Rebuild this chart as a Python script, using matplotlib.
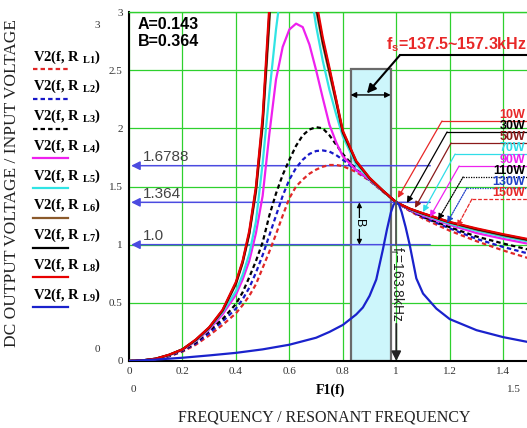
import matplotlib
matplotlib.use('Agg')
import matplotlib.pyplot as plt
from matplotlib.patches import Rectangle
from matplotlib.lines import Line2D

# normalised frequency f / fr (shared by curves L1..L8)
freq = [0, 0.05, 0.1, 0.15, 0.2, 0.25, 0.3, 0.35, 0.4, 0.425, 0.45, 0.475, 0.5, 0.525,
        0.55, 0.575, 0.6, 0.625, 0.65, 0.675, 0.7, 0.725, 0.75, 0.775, 0.8, 0.85, 0.9,
        0.95, 1.0, 1.05, 1.1, 1.2, 1.3, 1.4, 1.5]

# gain, one list per load resistance
gain_l1 = [0, 0.004, 0.015, 0.04, 0.08, 0.14, 0.22, 0.31, 0.41, 0.48, 0.56, 0.66, 0.80, 0.94,
           1.09, 1.25, 1.40, 1.50, 1.56, 1.61, 1.645, 1.67, 1.685, 1.685, 1.675, 1.625, 1.55,
           1.455, 1.364, 1.29, 1.225, 1.12, 1.03, 0.95, 0.88]
gain_l2 = [0, 0.004, 0.015, 0.042, 0.085, 0.15, 0.24, 0.34, 0.45, 0.53, 0.63, 0.76, 0.91, 1.08,
           1.25, 1.42, 1.56, 1.66, 1.73, 1.78, 1.805, 1.81, 1.80, 1.77, 1.73, 1.64, 1.555,
           1.46, 1.364, 1.295, 1.235, 1.14, 1.05, 0.98, 0.92]
gain_l3 = [0, 0.004, 0.016, 0.045, 0.09, 0.16, 0.26, 0.36, 0.49, 0.59, 0.72, 0.86, 1.02, 1.25,
           1.44, 1.60, 1.73, 1.85, 1.94, 1.99, 2.01, 2.00, 1.94, 1.86, 1.78, 1.645, 1.56,
           1.46, 1.364, 1.30, 1.24, 1.15, 1.07, 1.01, 0.955]
gain_l4 = [0, 0.005, 0.018, 0.048, 0.095, 0.17, 0.27, 0.40, 0.57, 0.70, 0.86, 1.10, 1.42, 1.95,
           2.42, 2.70, 2.85, 2.90, 2.87, 2.72, 2.50, 2.26, 2.03, 1.88, 1.76, 1.64, 1.56,
           1.46, 1.364, 1.30, 1.25, 1.17, 1.10, 1.05, 1.005]
gain_l5 = [0, 0.005, 0.019, 0.05, 0.10, 0.175, 0.28, 0.42, 0.60, 0.74, 0.92, 1.20, 1.70, 2.30,
           2.85, 3.30, 3.60, 3.70, 3.60, 3.25, 2.88, 2.58, 2.33, 2.12, 1.93, 1.69, 1.565,
           1.462, 1.364, 1.305, 1.26, 1.18, 1.12, 1.07, 1.025]
gain_l6 = [0, 0.005, 0.02, 0.052, 0.10, 0.18, 0.285, 0.43, 0.66, 0.84, 1.09, 1.45, 2.02, 2.90,
           4.0, 4.9, 5.1, 4.7, 4.0, 3.45, 3.02, 2.72, 2.47, 2.22, 1.96, 1.71, 1.57,
           1.463, 1.364, 1.308, 1.265, 1.19, 1.13, 1.08, 1.035]
gain_l7 = [0, 0.005, 0.02, 0.053, 0.10, 0.182, 0.288, 0.435, 0.67, 0.85, 1.10, 1.48, 2.06, 2.98,
           4.3, 5.5, 5.8, 5.3, 4.3, 3.58, 3.06, 2.75, 2.50, 2.24, 1.97, 1.715, 1.572,
           1.464, 1.364, 1.309, 1.268, 1.193, 1.135, 1.085, 1.04]
gain_l8 = [0, 0.005, 0.02, 0.054, 0.10, 0.185, 0.29, 0.44, 0.68, 0.86, 1.12, 1.50, 2.10, 3.05,
           4.5, 6.0, 6.5, 5.8, 4.6, 3.70, 3.10, 2.78, 2.52, 2.25, 1.98, 1.72, 1.575,
           1.465, 1.364, 1.31, 1.27, 1.195, 1.14, 1.09, 1.045]

# L9 (sharp resonance) has its own frequency points
freq_l9 = [0, 0.1, 0.2, 0.3, 0.4, 0.5, 0.6, 0.7, 0.75, 0.8, 0.85, 0.875, 0.9, 0.925, 0.95,
           0.965, 0.98, 0.99, 1.0, 1.01, 1.02, 1.035, 1.05, 1.075, 1.1, 1.15, 1.2, 1.3, 1.4, 1.5]
gain_l9 = [0, 0.012, 0.028, 0.048, 0.07, 0.10, 0.14, 0.20, 0.25, 0.31, 0.40, 0.46, 0.56, 0.70,
           0.96, 1.13, 1.28, 1.345, 1.364, 1.345, 1.28, 1.15, 1.0, 0.71, 0.58, 0.45, 0.36,
           0.265, 0.205, 0.16]

curve_names = ['L1', 'L2', 'L3', 'L4', 'L5', 'L6', 'L7', 'L8', 'L9']
load_labels = ['10W', '30W', '50W', '70W', '90W', '110W', '130W', '150W']
marked_gains = [1.6788, 1.364, 1.0]
marked_texts = ['1.6788', '1.364', '1.0']

dash = (0, (2, 1.4))
styles = [('#e02828', dash), ('#1818c8', dash), ('black', dash), ('#ee20ee', '-'),
          ('#30e4e4', '-'), ('#8b5a2b', '-'), ('black', '-'), ('#e80000', '-'), ('#1a22cc', '-')]

plt.rcParams['font.family'] = 'Liberation Serif'

W, H = 527, 428
fig = plt.figure(figsize=(W / 100, H / 100), dpi=100)
ax = fig.add_axes([129 / W, 67 / H, 398 / W, 349 / H])

# shaded switching-frequency band
ax.add_patch(Rectangle((0.829, 0), 0.15, 2.51, facecolor='#cdf6fb', edgecolor='#6a6a6a',
                       lw=1.6, zorder=1.5))

all_gains = [gain_l1, gain_l2, gain_l3, gain_l4, gain_l5, gain_l6, gain_l7, gain_l8]
for g, (col, ls) in zip(all_gains, styles[:8]):
    ax.plot(freq, g, color=col, ls=ls, lw=1.6, zorder=3)
ax.plot(freq_l9, gain_l9, color=styles[8][0], lw=1.6, zorder=3.5)

ax.set_xlim(0, 1.489)
ax.set_ylim(0, 3)
ax.set_xticks([0, 0.2, 0.4, 0.6, 0.8, 1.0, 1.2, 1.4])
ax.set_xticklabels(['0', '0.2', '0.4', '0.6', '0.8', '1', '1.2', '1.4'])
ax.set_yticks([0, 0.5, 1, 1.5, 2, 2.5, 3])
ax.set_yticklabels(['0', '0.5', '1', '1.5', '2', '2.5', '3'])
ax.tick_params(length=0, pad=4.5, labelsize=8, labelcolor='#333333')
ax.grid(True, color='#2ed02e', lw=0.9)
ax.set_axisbelow(True)
ax.spines['right'].set_visible(False)
ax.spines['top'].set_color('#2ed02e')
ax.spines['top'].set_linewidth(1.0)
ax.spines['left'].set_linewidth(1.5)
ax.spines['bottom'].set_linewidth(1.5)

# horizontal reference arrows
for gv, txt in zip(marked_gains, marked_texts):
    ax.annotate('', xy=(0.008, gv), xytext=(1.127, gv),
                arrowprops=dict(arrowstyle='-|>', color='#4b4be0', lw=1.1, mutation_scale=13,
                                shrinkA=0, shrinkB=0), zorder=2.5)
    ax.text(0.052, gv + 0.075, txt, family='Liberation Sans', fontsize=11, color='#444444',
            va='center', ha='left')

# band width arrow and its call-out
ax.annotate('', xy=(0.829, 2.287), xytext=(0.979, 2.287),
            arrowprops=dict(arrowstyle='<|-|>', color='black', lw=1, mutation_scale=8,
                            shrinkA=0, shrinkB=0), zorder=4)
ax.plot([1.014, 1.489], [2.63, 2.63], color='black', lw=1.5, zorder=4)
ax.annotate('', xy=(0.89, 2.30), xytext=(1.014, 2.63),
            arrowprops=dict(arrowstyle='-|>', color='black', lw=1.5, mutation_scale=13,
                            shrinkA=0, shrinkB=0), zorder=4)
ax.text(0.962, 2.72, r'f$\mathregular{_s}$=137.5~157.3kHz', family='Liberation Sans',
        weight='bold', fontsize=11.5, color='#e82828', va='center', ha='left', clip_on=False)

ax.text(0.034, 2.889, 'A=0.143', family='Liberation Sans', weight='bold', fontsize=11.5,
        va='center', ha='left')
ax.text(0.034, 2.743, 'B=0.364', family='Liberation Sans', weight='bold', fontsize=11.5,
        va='center', ha='left')

# B gap arrow
ax.annotate('', xy=(0.862, 1.364), xytext=(0.862, 1.0),
            arrowprops=dict(arrowstyle='<|-|>', color='black', lw=0.9, mutation_scale=7,
                            shrinkA=0, shrinkB=0), zorder=4)
ax.text(0.862, 1.182, 'B', family='Liberation Sans', fontsize=9, rotation=-90,
        va='center', ha='center', zorder=5,
        bbox=dict(facecolor='#cdf6fb', edgecolor='none', pad=0.6))

# resonant frequency marker: line broken by the rotated label
ax.plot([1.0, 1.0], [1.364, 1.0], color='#555555', lw=1.3, zorder=4)
ax.annotate('', xy=(1.0, 0.0), xytext=(1.0, 0.32),
            arrowprops=dict(arrowstyle='-|>', color='#222222', lw=1.3, mutation_scale=14,
                            shrinkA=0, shrinkB=0), zorder=4)
ax.text(1.003, 0.66, r'f$\mathregular{_r}$=163.8kHz', family='Liberation Sans', fontsize=10,
        rotation=-90, va='center', ha='center', color='#222222', zorder=5)

# load call-outs
note_colors = ['#e82828', 'black', '#8b1a1a', '#30dde8', '#ee22ee', 'black', '#2040c8', '#e82828']
note_lines = ['-', '-', '-', '-', '-', (0, (1, 1)), (0, (1, 1)), (0, (3, 1.5))]
note_text_g = [2.115, 2.021, 1.926, 1.831, 1.728, 1.634, 1.539, 1.444]
corner_f = [1.171, 1.190, 1.205, 1.220, 1.235, 1.250, 1.264, 1.283]
tip_f = [1.006, 1.040, 1.070, 1.100, 1.126, 1.156, 1.190, 1.227]
tip_g = [1.402, 1.359, 1.316, 1.281, 1.238, 1.212, 1.187, 1.152]
for i, lab in enumerate(load_labels):
    lg = note_text_g[i] - 0.052
    ax.plot([corner_f[i], 1.489], [lg, lg], color=note_colors[i], ls=note_lines[i], lw=0.9, zorder=4)
    ax.annotate('', xy=(tip_f[i], tip_g[i]), xytext=(corner_f[i], lg),
                arrowprops=dict(arrowstyle='-|>', color=note_colors[i], lw=0.9, ls=note_lines[i],
                                mutation_scale=9, shrinkA=0, shrinkB=0), zorder=4)
    ax.text(1.482, note_text_g[i], lab, family='Liberation Sans', weight='bold', fontsize=9,
            color=note_colors[i], ha='right', va='center', zorder=5)

# Mathcad style legend on the left
for i, (name, (col, ls)) in enumerate(zip(curve_names, styles)):
    ly = 1 - (69 + 29.75 * i) / H
    fig.add_artist(Line2D([33 / W, 68 / W], [ly, ly], color=col, ls=ls, lw=1.6))
    fig.text(33 / W, ly + 12 / H, r'V2(f, R $\mathregular{_{' + name + '}}$)', fontsize=10.5,
             weight='bold', va='center', ha='left')

fig.text(97 / W, 1 - 25 / H, '3', fontsize=8, color='#333333', ha='center', va='center')
fig.text(97 / W, 1 - 350 / H, '0', fontsize=8, color='#333333', ha='center', va='center')
fig.text(133 / W, 1 - 390 / H, '0', fontsize=8, color='#333333', ha='center', va='center')
fig.text(514 / W, 1 - 390 / H, '1.5', fontsize=8, color='#333333', ha='center', va='center')
fig.text(330 / W, 1 - 390 / H, 'F1(f)', fontsize=10, weight='bold', ha='center', va='center')
fig.text(324 / W, 1 - 418 / H, 'FREQUENCY / RESONANT FREQUENCY', fontsize=11.5,
         color='#222222', ha='center', va='center')
fig.text(12 / W, 1 - 183 / H, 'DC OUTPUT VOLTAGE / INPUT VOLTAGE', fontsize=12.5,
         color='#222222', rotation=90, ha='center', va='center')

fig.savefig('out.png', dpi=100)
